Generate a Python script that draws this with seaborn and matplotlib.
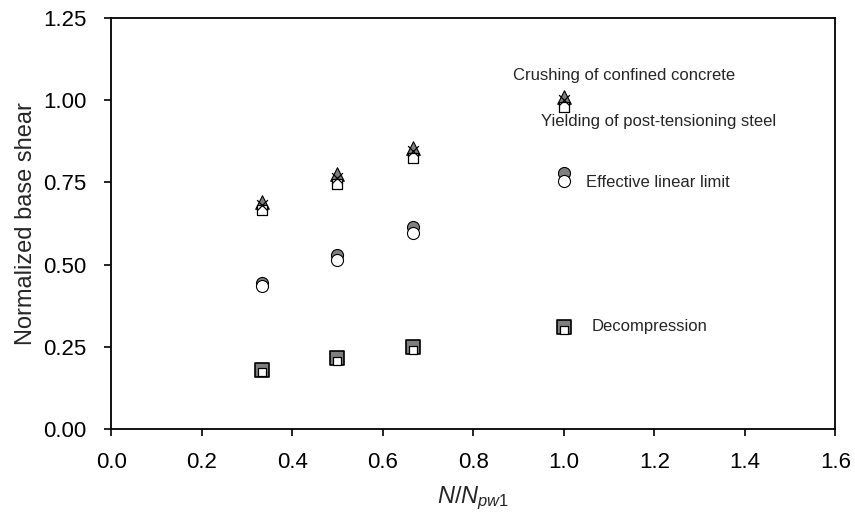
import matplotlib
matplotlib.use("Agg")
import matplotlib.pyplot as plt
import seaborn as sns
from matplotlib.ticker import FormatStrFormatter

# Axial load ratio N/Npw1 for the four wall configurations
ratio = [0.333, 0.5, 0.667, 1.0]

# Normalized base shear at each limit state
crushing_a = [0.690, 0.775, 0.855, 1.010]
crushing_b = [0.680, 0.765, 0.845, 1.000]
yielding_pt = [0.665, 0.745, 0.825, 0.980]
linear_a = [0.445, 0.530, 0.615, 0.780]
linear_b = [0.435, 0.515, 0.595, 0.755]
decomp_a = [0.180, 0.215, 0.250, 0.310]
decomp_b = [0.172, 0.207, 0.240, 0.300]

labels = ["Crushing of confined concrete", "Yielding of post-tensioning steel",
          "Effective linear limit", "Decompression"]

x_ticks = [0.0, 0.2, 0.4, 0.6, 0.8, 1.0, 1.2, 1.4, 1.6]
y_ticks = [0.00, 0.25, 0.50, 0.75, 1.00, 1.25]

sns.set_theme(style="ticks")
plt.rcParams['font.family'] = ['Liberation Sans', 'DejaVu Sans']
plt.rcParams['mathtext.fontset'] = 'custom'
plt.rcParams['mathtext.it'] = 'Liberation Sans:italic'
plt.rcParams['mathtext.rm'] = 'Liberation Sans'

fig = plt.figure(figsize=(8.55, 5.21), dpi=100)
ax = fig.add_axes([0.130, 0.177, 0.847, 0.788])

gray = '#7f7f7f'
common = dict(ax=ax, legend=False, edgecolor='black')

sns.scatterplot(x=ratio, y=crushing_a, marker='^', s=95, color=gray, linewidth=0.8, zorder=3, **common)
sns.scatterplot(x=ratio, y=yielding_pt, marker='s', s=60, color='white', linewidth=0.9, zorder=4, **common)
sns.scatterplot(x=ratio, y=crushing_b, marker='x', s=60, color='black', linewidth=0.9, zorder=5, ax=ax, legend=False)

sns.scatterplot(x=ratio, y=linear_a, marker='o', s=75, color=gray, linewidth=0.8, zorder=3, **common)
sns.scatterplot(x=ratio, y=linear_b, marker='o', s=75, color='white', linewidth=0.8, zorder=4, **common)

sns.scatterplot(x=ratio, y=decomp_a, marker='s', s=110, color=gray, linewidth=1.2, zorder=3, **common)
sns.scatterplot(x=ratio, y=decomp_b, marker='s', s=28, color='white', linewidth=0.9, zorder=4, **common)

fs = 12
ax.text(1.133, 1.075, labels[0], ha='center', va='center', fontsize=fs)
ax.text(1.209, 0.935, labels[1], ha='center', va='center', fontsize=fs)
ax.text(1.049, 0.75, labels[2], ha='left', va='center', fontsize=fs)
ax.text(1.062, 0.31, labels[3], ha='left', va='center', fontsize=fs)

ax.set_xlim(0, 1.6)
ax.set_ylim(0, 1.25)
ax.set_xticks(x_ticks)
ax.set_yticks(y_ticks)
ax.xaxis.set_major_formatter(FormatStrFormatter('%.1f'))
ax.yaxis.set_major_formatter(FormatStrFormatter('%.2f'))
ax.tick_params(direction='out', length=5, width=1.2, labelsize=16, color='black', labelcolor='black')
ax.tick_params(axis='x', pad=12)
ax.tick_params(axis='y', pad=13)

for sp in ax.spines.values():
    sp.set_visible(True)
    sp.set_linewidth(1.3)
    sp.set_color('black')

ax.set_xlabel(r'$\mathit{N/N_{pw1}}$', fontsize=17, labelpad=8)
ax.set_ylabel('Normalized base shear', fontsize=17, labelpad=4)

fig.savefig('out.png', dpi=100)
